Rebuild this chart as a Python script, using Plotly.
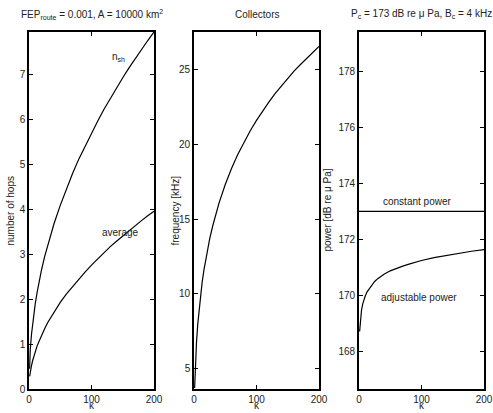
import plotly.graph_objects as go

# ---- data ----
k_grid = [1, 2, 4, 6, 8, 10, 13, 16, 20, 25, 30, 40, 50, 60, 70, 80, 90, 100,
          110, 120, 130, 140, 150, 160, 170, 180, 190, 200]
n_sh = [0.45, 0.88, 1.22, 1.49, 1.71, 1.90, 2.15, 2.38, 2.65, 2.95, 3.21, 3.68, 4.09, 4.47,
        4.81, 5.13, 5.42, 5.71, 5.97, 6.23, 6.47, 6.70, 6.93, 7.15, 7.36, 7.56, 7.76, 7.95]
n_avg = [0.28, 0.38, 0.52, 0.64, 0.74, 0.83, 0.96, 1.06, 1.20, 1.34, 1.48, 1.71, 1.93, 2.12,
         2.29, 2.46, 2.61, 2.76, 2.90, 3.04, 3.17, 3.29, 3.41, 3.53, 3.64, 3.75, 3.86, 3.96]

k_freq = [1, 2, 3, 4, 6, 8, 10, 13, 16, 20, 25, 30, 40, 50, 60, 70, 80, 90, 100,
          110, 120, 130, 140, 150, 160, 170, 180, 190, 200]
freq = [3.70, 5.04, 6.00, 6.77, 7.98, 8.94, 9.75, 10.77, 11.63, 12.62, 13.67, 14.56, 16.07,
        17.32, 18.39, 19.32, 20.17, 20.92, 21.61, 22.26, 22.85, 23.41, 23.93, 24.43, 24.90,
        25.33, 25.76, 26.16, 26.56]

k_pow = [1, 2, 3, 4, 6, 8, 10, 13, 16, 20, 25, 30, 40, 50, 60, 70, 80, 90, 100,
         120, 140, 160, 180, 200]
p_adj = [168.70, 169.08, 169.30, 169.46, 169.69, 169.85, 169.97, 170.12, 170.22, 170.36,
         170.49, 170.59, 170.75, 170.87, 170.96, 171.04, 171.11, 171.18, 171.24, 171.34,
         171.42, 171.50, 171.57, 171.63]
k_const = [0, 200]
p_const = [173, 173]

titles = ["FEP<sub>route</sub> = 0.001, A = 10000 km<sup>2</sup>",
          "Collectors",
          "P<sub>c</sub> = 173 dB re \u03bc Pa, B<sub>c</sub> = 4 kHz"]
ylabels = ["number of hops", "frequency [kHz]", "power [dB re \u03bc Pa]"]
xlabel = "\u03ba"
yranges = [[0, 7.95], [3.64, 27.52], [166.64, 179.42]]
ytickvals = [list(range(0, 8)), [5, 10, 15, 20, 25], [168, 170, 172, 174, 176, 178]]

FONT = "Liberation Sans, Arial, sans-serif"
TXT = dict(family=FONT, size=10, color="#222")
W, H = 493, 413
xdoms = [(29, 154), (194, 319), (359, 484)]
ydom = [1 - 389 / H, 1 - 32 / H]

fig = go.Figure()
line = dict(color="black", width=1.2)
fig.add_trace(go.Scatter(x=k_grid, y=n_sh, mode="lines", line=line, xaxis="x", yaxis="y"))
fig.add_trace(go.Scatter(x=k_grid, y=n_avg, mode="lines", line=line, xaxis="x", yaxis="y"))
fig.add_trace(go.Scatter(x=k_freq, y=freq, mode="lines", line=line, xaxis="x2", yaxis="y2"))
fig.add_trace(go.Scatter(x=k_const, y=p_const, mode="lines", line=line, xaxis="x3", yaxis="y3"))
fig.add_trace(go.Scatter(x=k_pow, y=p_adj, mode="lines", line=line, xaxis="x3", yaxis="y3"))

axcommon = dict(showgrid=False, zeroline=False, showline=True, linecolor="black", linewidth=1.6,
                mirror="ticks", ticks="inside", ticklen=4, tickwidth=1, tickcolor="black",
                tickfont=TXT, automargin=False)
layout = dict(width=W, height=H, margin=dict(l=0, r=0, t=0, b=0, pad=0), showlegend=False,
              plot_bgcolor="white", paper_bgcolor="white", font=TXT)
annotations = []
for i in range(3):
    sx = "" if i == 0 else str(i + 1)
    xd = [xdoms[i][0] / W, xdoms[i][1] / W]
    layout["xaxis" + sx] = dict(domain=xd, range=[0, 200], tickvals=[0, 100, 200],
                                anchor="y" + sx, **axcommon)
    layout["yaxis" + sx] = dict(domain=ydom, range=yranges[i], tickvals=ytickvals[i],
                                anchor="x" + sx, **axcommon)
    cx = (xdoms[i][0] + xdoms[i][1]) / 2 / W
    annotations.append(dict(text=titles[i], x=cx, y=1 - 14 / H, xref="paper", yref="paper",
                            xanchor="center", yanchor="middle", showarrow=False, font=TXT))
    annotations.append(dict(text=xlabel, x=cx, y=1 / H, xref="paper", yref="paper",
                            xanchor="center", yanchor="bottom", borderpad=0,
                            showarrow=False, font=TXT))
ylab_x = [10, 175, 327]
for i in range(3):
    annotations.append(dict(text=ylabels[i], x=ylab_x[i] / W, y=(ydom[0] + ydom[1]) / 2,
                            xref="paper", yref="paper", xanchor="center", yanchor="middle",
                            textangle=-90, showarrow=False, font=TXT))
annotations += [
    dict(text="n<sub>sh</sub>", x=129, y=7.4, xref="x", yref="y", xanchor="left", showarrow=False, font=TXT),
    dict(text="average", x=113, y=3.49, xref="x", yref="y", xanchor="left", showarrow=False, font=TXT),
    dict(text="constant power", x=35, y=173.37, xref="x3", yref="y3", xanchor="left", showarrow=False, font=TXT),
    dict(text="adjustable power", x=32, y=169.9, xref="x3", yref="y3", xanchor="left", showarrow=False, font=TXT),
]
layout["annotations"] = annotations
fig.update_layout(**layout)
fig.write_html("out.html", config={"displayModeBar": False},
               post_script="document.body.style.margin='0px';document.body.style.overflow='hidden';")
